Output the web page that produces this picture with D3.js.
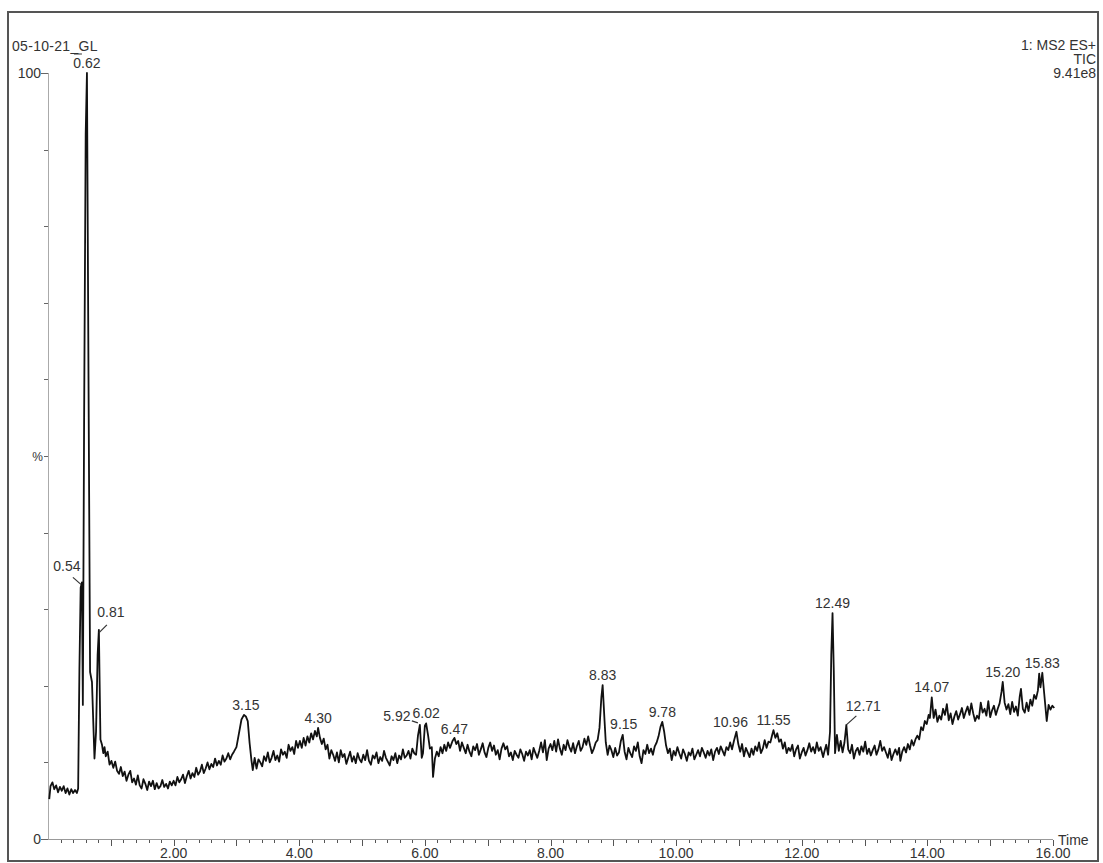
<!DOCTYPE html>
<html><head><meta charset="utf-8">
<script src="https://cdn.jsdelivr.net/npm/d3@7"></script>
<style>
html,body{margin:0;padding:0;background:#fff;}
svg text{font-family:"Liberation Sans",Arial,sans-serif;fill:#333;}
</style></head>
<body>
<svg id="c" width="1103" height="863"></svg>
<script>
// ---------- data ----------
const sampleName = "05-10-21_GL";
const headerLines = ["1: MS2 ES+", "TIC", "9.41e8"];
const xTickLabels = ["2.00","4.00","6.00","8.00","10.00","12.00","14.00","16.00"];
const yTickLabels = ["0","%","100"];
const peakLabels  = ["0.54","0.62","0.81","3.15","4.30","5.92","6.02","6.47","8.83","9.15","9.78","10.96","11.55","12.49","12.71","14.07","15.20","15.83"];
const peakTimes   = [0.54,0.62,0.81,3.15,4.30,5.92,6.02,6.47,8.83,9.15,9.78,10.96,11.55,12.49,12.71,14.07,15.20,15.83];
const peakHeights = [33.5,100,27.3,16.2,14.5,14.9,15.1,13.2,20.1,13.6,15.3,14.0,14.2,29.5,14.9,18.5,20.5,21.7];
const tic = [
[0.02,5.2],[0.04,6.9],[0.07,7.4],[0.10,6.5],[0.13,7.0],[0.16,6.1],[0.19,6.8],[0.22,6.3],[0.25,6.9],[0.28,6.0],[0.31,6.6],[0.34,5.8],[0.37,6.5],[0.40,6.0],[0.43,6.4],[0.46,6.0],[0.48,6.6],
[0.50,22],[0.52,32.8],[0.54,33.5],[0.555,17.5],[0.575,55],[0.60,92],[0.62,100],[0.645,60],[0.67,21.8],[0.70,20.5],[0.74,10.5],[0.765,14],[0.79,24],[0.81,27.3],[0.835,13],[0.86,12.3],[0.88,11.2],[0.90,12.0],[0.92,10.8],[0.95,11.4],[0.98,9.7],
[1.01,10.2],[1.04,9.3],[1.07,10.1],[1.10,8.9],[1.13,8.5],[1.16,9.4],[1.19,8.2],[1.22,8.8],[1.25,7.6],[1.28,8.4],[1.31,8.9],[1.34,7.4],[1.37,7.9],[1.40,7.1],[1.43,8.3],[1.46,7.0],[1.49,6.6],[1.52,7.8],[1.55,7.2],[1.58,6.4],[1.61,7.5],[1.64,6.9],[1.67,7.6],[1.70,6.5],[1.73,7.3],[1.76,6.6],[1.79,6.9],[1.82,7.7],[1.85,6.8],[1.88,7.2],[1.91,6.6],[1.94,7.5],[1.97,7.0],
[2.00,7.6],[2.03,7.0],[2.06,8.1],[2.09,7.4],[2.12,7.8],[2.15,8.4],[2.18,7.3],[2.21,8.2],[2.24,8.9],[2.27,7.9],[2.30,8.6],[2.33,8.1],[2.36,9.3],[2.39,8.4],[2.42,8.8],[2.45,9.7],[2.48,8.6],[2.51,9.2],[2.54,10.0],[2.57,9.1],[2.60,9.8],[2.63,9.4],[2.66,10.5],[2.69,9.6],[2.72,10.2],[2.75,9.7],[2.78,10.9],[2.81,10.1],[2.84,10.5],[2.87,11.2],[2.90,10.4],[2.93,11.0],[2.96,11.4],
[3.00,12.0],[3.04,13.8],[3.08,15.6],[3.12,16.2],[3.15,16.0],[3.18,15.4],[3.21,12.5],[3.24,10.2],[3.26,9.0],
[3.29,10.6],[3.32,9.2],[3.35,10.4],[3.38,10.0],[3.41,9.5],[3.44,10.8],[3.47,10.2],[3.50,11.3],[3.53,10.0],[3.56,10.6],[3.59,11.5],[3.62,10.3],[3.65,10.9],[3.68,10.1],[3.71,11.7],[3.74,11.0],[3.77,11.4],[3.80,10.6],[3.83,12.3],[3.86,11.5],[3.89,12.0],[3.92,11.1],[3.95,12.8],[3.98,11.9],
[4.01,12.8],[4.04,11.9],[4.07,13.2],[4.10,12.2],[4.13,13.4],[4.16,12.6],[4.19,13.8],[4.22,13.0],[4.25,14.1],[4.28,13.4],[4.30,14.5],[4.33,13.2],[4.36,12.4],[4.39,13.1],
[4.42,11.7],[4.45,12.3],[4.48,10.5],[4.51,11.6],[4.54,11.0],[4.57,10.2],[4.60,11.3],[4.63,10.0],[4.66,11.6],[4.69,10.7],[4.72,11.1],[4.75,9.8],[4.78,10.6],[4.81,11.4],[4.84,10.1],[4.87,10.8],[4.90,9.9],[4.93,11.2],[4.96,10.4],[4.99,10.0],
[5.02,11.0],[5.05,10.3],[5.08,11.6],[5.11,10.2],[5.14,9.7],[5.17,10.9],[5.20,10.5],[5.23,11.3],[5.26,9.9],[5.29,10.7],[5.32,10.2],[5.35,11.5],[5.38,10.6],[5.41,10.1],[5.44,9.6],[5.47,10.8],[5.50,10.3],[5.53,11.2],[5.56,9.9],[5.59,10.9],[5.62,10.4],[5.65,11.7],[5.68,10.6],[5.71,10.9],[5.74,11.5],[5.77,10.5],[5.80,11.8],[5.83,11.2],[5.86,11.0],
[5.89,13.5],[5.92,14.9],[5.95,10.6],[5.97,11.2],[6.00,14.8],[6.02,15.1],[6.05,13.6],[6.08,11.8],[6.11,12.0],[6.13,8.1],[6.16,10.5],[6.19,11.4],[6.22,10.8],[6.25,12.0],[6.28,11.2],[6.31,12.3],[6.34,11.5],[6.37,12.6],[6.40,11.9],[6.44,12.8],[6.47,13.2],
[6.50,12.4],[6.53,12.8],[6.56,11.5],[6.59,12.6],[6.62,11.9],[6.65,11.2],[6.68,12.3],[6.71,11.4],[6.74,10.8],[6.77,12.1],[6.80,11.6],[6.83,12.4],[6.86,11.0],[6.89,11.7],[6.92,12.5],[6.95,11.3],[6.98,10.7],
[7.01,11.9],[7.04,12.6],[7.07,11.5],[7.10,12.2],[7.13,11.0],[7.16,11.6],[7.19,10.4],[7.22,11.8],[7.25,12.5],[7.28,11.7],[7.31,12.1],[7.34,10.8],[7.37,11.3],[7.40,10.3],[7.43,11.5],[7.46,11.0],[7.49,10.6],[7.52,11.7],[7.55,11.1],[7.58,10.2],[7.61,11.4],[7.64,10.9],[7.67,11.6],[7.70,10.4],[7.73,11.9],[7.76,11.2],[7.79,10.6],[7.82,11.5],[7.85,12.6],[7.88,11.3],[7.91,12.9],[7.94,10.3],[7.97,11.8],
[8.00,12.4],[8.03,11.6],[8.06,12.8],[8.09,11.4],[8.12,13.0],[8.15,11.8],[8.18,11.0],[8.21,12.3],[8.24,11.6],[8.27,12.9],[8.30,12.0],[8.33,11.4],[8.36,12.5],[8.39,11.2],[8.42,12.1],[8.45,12.8],[8.48,11.5],[8.51,12.0],[8.54,13.1],[8.57,12.3],[8.60,13.4],[8.63,12.2],[8.66,11.2],[8.69,11.8],[8.72,12.6],[8.75,12.9],
[8.78,14.5],[8.81,18.5],[8.83,20.1],[8.86,15.5],
[8.88,12.6],[8.91,11.0],[8.94,12.2],[8.97,11.6],[9.00,10.7],[9.03,11.9],[9.06,10.9],[9.09,11.3],[9.12,12.8],[9.15,13.6],[9.18,11.4],[9.21,10.4],[9.24,11.9],[9.27,11.2],[9.30,10.7],[9.33,12.1],[9.36,11.5],[9.39,12.6],[9.42,10.8],[9.45,9.9],[9.48,11.6],[9.51,11.1],[9.54,12.3],[9.57,11.2],[9.60,11.8],[9.63,11.0],[9.66,12.1],
[9.69,12.6],[9.72,13.4],[9.75,14.6],[9.78,15.3],[9.81,14.0],[9.84,12.2],
[9.87,11.2],[9.90,11.8],[9.93,10.3],[9.96,11.5],[9.99,10.9],[10.02,12.0],[10.05,11.2],[10.08,10.5],[10.11,11.7],[10.14,11.1],[10.17,10.2],[10.20,11.3],[10.23,10.9],[10.26,11.8],[10.29,10.4],[10.32,11.0],[10.35,11.6],[10.38,10.8],[10.41,11.9],[10.44,11.3],[10.47,10.6],[10.50,11.5],[10.53,10.9],[10.56,11.7],[10.59,10.3],[10.62,11.4],[10.65,11.9],[10.68,11.1],[10.71,12.1],[10.74,11.5],[10.77,10.9],[10.80,12.0],[10.83,11.6],[10.86,12.6],[10.89,11.7],[10.92,12.8],
[10.96,14.0],[10.99,12.4],
[11.02,11.4],[11.05,12.4],[11.08,10.8],[11.11,11.9],[11.14,11.3],[11.17,10.7],[11.20,11.8],[11.23,11.0],[11.26,12.1],[11.29,11.5],[11.32,12.6],[11.35,11.2],[11.38,11.8],[11.41,12.9],[11.44,11.9],[11.47,12.7],
[11.50,12.6],[11.53,13.6],[11.55,14.2],[11.58,13.2],[11.61,13.8],
[11.64,12.7],[11.67,13.0],[11.70,11.8],[11.73,12.6],[11.76,11.2],[11.79,11.9],[11.82,11.5],[11.85,12.3],[11.88,10.8],[11.91,11.7],[11.94,12.2],[11.97,10.5],[12.00,11.3],[12.03,11.9],[12.06,10.9],[12.09,11.6],[12.12,12.5],[12.15,11.4],[12.18,12.0],[12.21,11.2],[12.24,12.6],[12.27,11.5],[12.30,12.0],[12.34,10.7],[12.36,11.4],[12.39,12.3],[12.42,11.0],
[12.45,14],[12.47,24],[12.49,29.5],[12.51,22],[12.53,11.2],[12.56,13.6],[12.59,11.5],[12.62,12.8],[12.65,11.3],[12.68,12.6],[12.71,14.9],
[12.74,11.7],[12.77,11.2],[12.80,12.3],[12.83,10.5],[12.86,11.5],[12.89,11.9],[12.92,11.0],[12.95,12.1],[12.98,11.4],[13.01,12.7],[13.04,11.1],[13.07,11.8],[13.10,10.9],[13.13,11.6],[13.16,12.2],[13.19,11.0],[13.22,11.7],[13.25,12.8],[13.28,11.5],[13.31,12.0],[13.34,11.3],[13.37,10.6],[13.40,11.8],[13.43,10.3],[13.46,11.1],[13.49,11.7],[13.52,11.0],[13.55,11.9],[13.57,10.2],[13.60,11.4],[13.63,12.0],[13.66,11.3],[13.69,12.4],[13.72,11.7],[13.75,12.9],[13.78,12.2],[13.81,13.0],
[13.84,13.5],[13.87,13.0],[13.90,14.6],[13.93,14.2],[13.96,15.4],[13.99,15.0],[14.02,16.2],[14.04,15.8],[14.07,18.5],
[14.10,15.8],[14.13,16.9],[14.16,15.3],[14.19,16.1],[14.22,15.6],[14.25,17.0],[14.28,16.2],[14.31,17.6],[14.34,15.5],[14.37,16.4],[14.40,15.0],[14.43,16.0],[14.46,16.7],[14.49,15.6],[14.52,16.3],[14.55,17.1],[14.58,15.8],[14.61,16.6],[14.64,17.3],[14.67,16.2],[14.70,17.7],[14.73,16.4],[14.76,15.4],[14.79,16.1],[14.82,15.7],[14.85,17.8],[14.88,16.5],[14.91,17.0],[14.94,16.1],[14.97,18.0],[15.00,15.9],[15.03,16.8],[15.06,17.4],[15.09,16.2],[15.12,17.0],[15.15,17.7],
[15.18,19.2],[15.20,20.5],[15.23,17.8],[15.26,16.9],[15.29,17.6],[15.32,16.3],[15.35,17.9],[15.38,16.6],[15.41,17.3],[15.44,16.1],[15.47,18.6],[15.49,19.6],[15.52,17.0],[15.55,16.5],[15.58,17.8],[15.61,16.7],[15.64,18.2],[15.67,17.4],[15.70,18.8],[15.73,18.3],[15.76,19.4],[15.78,21.6],[15.80,19.8],[15.83,21.7],[15.86,19.0],[15.88,17.2],[15.90,15.4],[15.93,17.5],[15.96,16.9],[15.99,17.4],[16.02,17.1]
];

// ---------- layout ----------
const svg = d3.select("#c");
const x = d3.scaleLinear().domain([0,16]).range([48,1053]);
const y = d3.scaleLinear().domain([0,100]).range([839,73]);
const fs = 14;

// outer frame
svg.append("rect").attr("x",8).attr("y",12).attr("width",1090).attr("height",849)
  .attr("fill","none").attr("stroke","#555").attr("stroke-width",2);

// header
svg.append("text").attr("x",12).attr("y",51).attr("font-size",fs).attr("letter-spacing",0.3).text(sampleName);
headerLines.forEach((t,i)=>{
  svg.append("text").attr("x",1096).attr("y",50+i*14).attr("text-anchor","end").attr("font-size",fs).text(t);
});

// y axis
svg.append("line").attr("x1",48.5).attr("x2",48.5).attr("y1",y(100)).attr("y2",y(0)).attr("stroke","#aaa");
const yTicks = d3.range(0,101,10);
svg.selectAll(".yt").data(yTicks).enter().append("line")
  .attr("x1",d=> (d===0||d===100)?41:44).attr("x2",48).attr("y1",d=>Math.round(y(d))+0.5).attr("y2",d=>Math.round(y(d))+0.5)
  .attr("stroke","#666");
const yLabVals = [0,50,100];
yTickLabels.forEach((t,i)=>{
  svg.append("text").attr("x", t==="%"?43:41).attr("y",y(yLabVals[i])+5)
    .attr("text-anchor","end").attr("font-size", t==="%"?12:fs).text(t);
});

// x axis
svg.append("line").attr("x1",48).attr("x2",1053).attr("y1",839.5).attr("y2",839.5).attr("stroke","#999");
const minor = d3.range(0.2,16.01,0.2);
svg.selectAll(".xt").data(minor).enter().append("line")
  .attr("x1",d=>Math.round(x(d))+0.5).attr("x2",d=>Math.round(x(d))+0.5)
  .attr("y1",840).attr("y2",d=> Math.abs(d-Math.round(d))<1e-6 ? 846 : 843)
  .attr("stroke","#555");
xTickLabels.forEach(t=>{
  svg.append("text").attr("x",x(+t)).attr("y",858).attr("text-anchor","middle").attr("font-size",fs).text(t);
});
svg.append("text").attr("x",1058).attr("y",845).attr("font-size",fs).text("Time");

// trace
const line = d3.line().x(d=>x(d[0])).y(d=>y(d[1]));
svg.append("path").datum(tic).attr("d",line).attr("fill","none")
  .attr("stroke","#111").attr("stroke-width",1.8).attr("stroke-linejoin","round");

// peak labels
const off = {"0.54":[-15,-6],"0.81":[12,-8],"12.71":[17,-9],"5.92":[-23,1],"10.96":[-6,0],"6.47":[0,1],"9.15":[1,-1]};
const leaders = {"0.54":[[-9,-5],[-1,2]],"0.81":[[8,-5],[0,3]],"12.71":[[10,-9],[0,0]],"5.92":[[-8,-4],[-2,-2]]};
peakLabels.forEach((lab,i)=>{
  const px = x(peakTimes[i]), py = y(peakHeights[i]);
  const o = off[lab]||[0,0];
  svg.append("text").attr("x",px+o[0]).attr("y",py-5+o[1]).attr("text-anchor","middle").attr("font-size",fs).text(lab);
  if(leaders[lab]){
    const L = leaders[lab];
    svg.append("line").attr("x1",px+L[0][0]).attr("y1",py+L[0][1]).attr("x2",px+L[1][0]).attr("y2",py+L[1][1])
      .attr("stroke","#333").attr("stroke-width",1.2);
  }
});
// small marker over 0.62
svg.append("line").attr("x1",x(0.62)-13).attr("x2",x(0.62)-5).attr("y1",54).attr("y2",54).attr("stroke","#333");
</script>
</body></html>
